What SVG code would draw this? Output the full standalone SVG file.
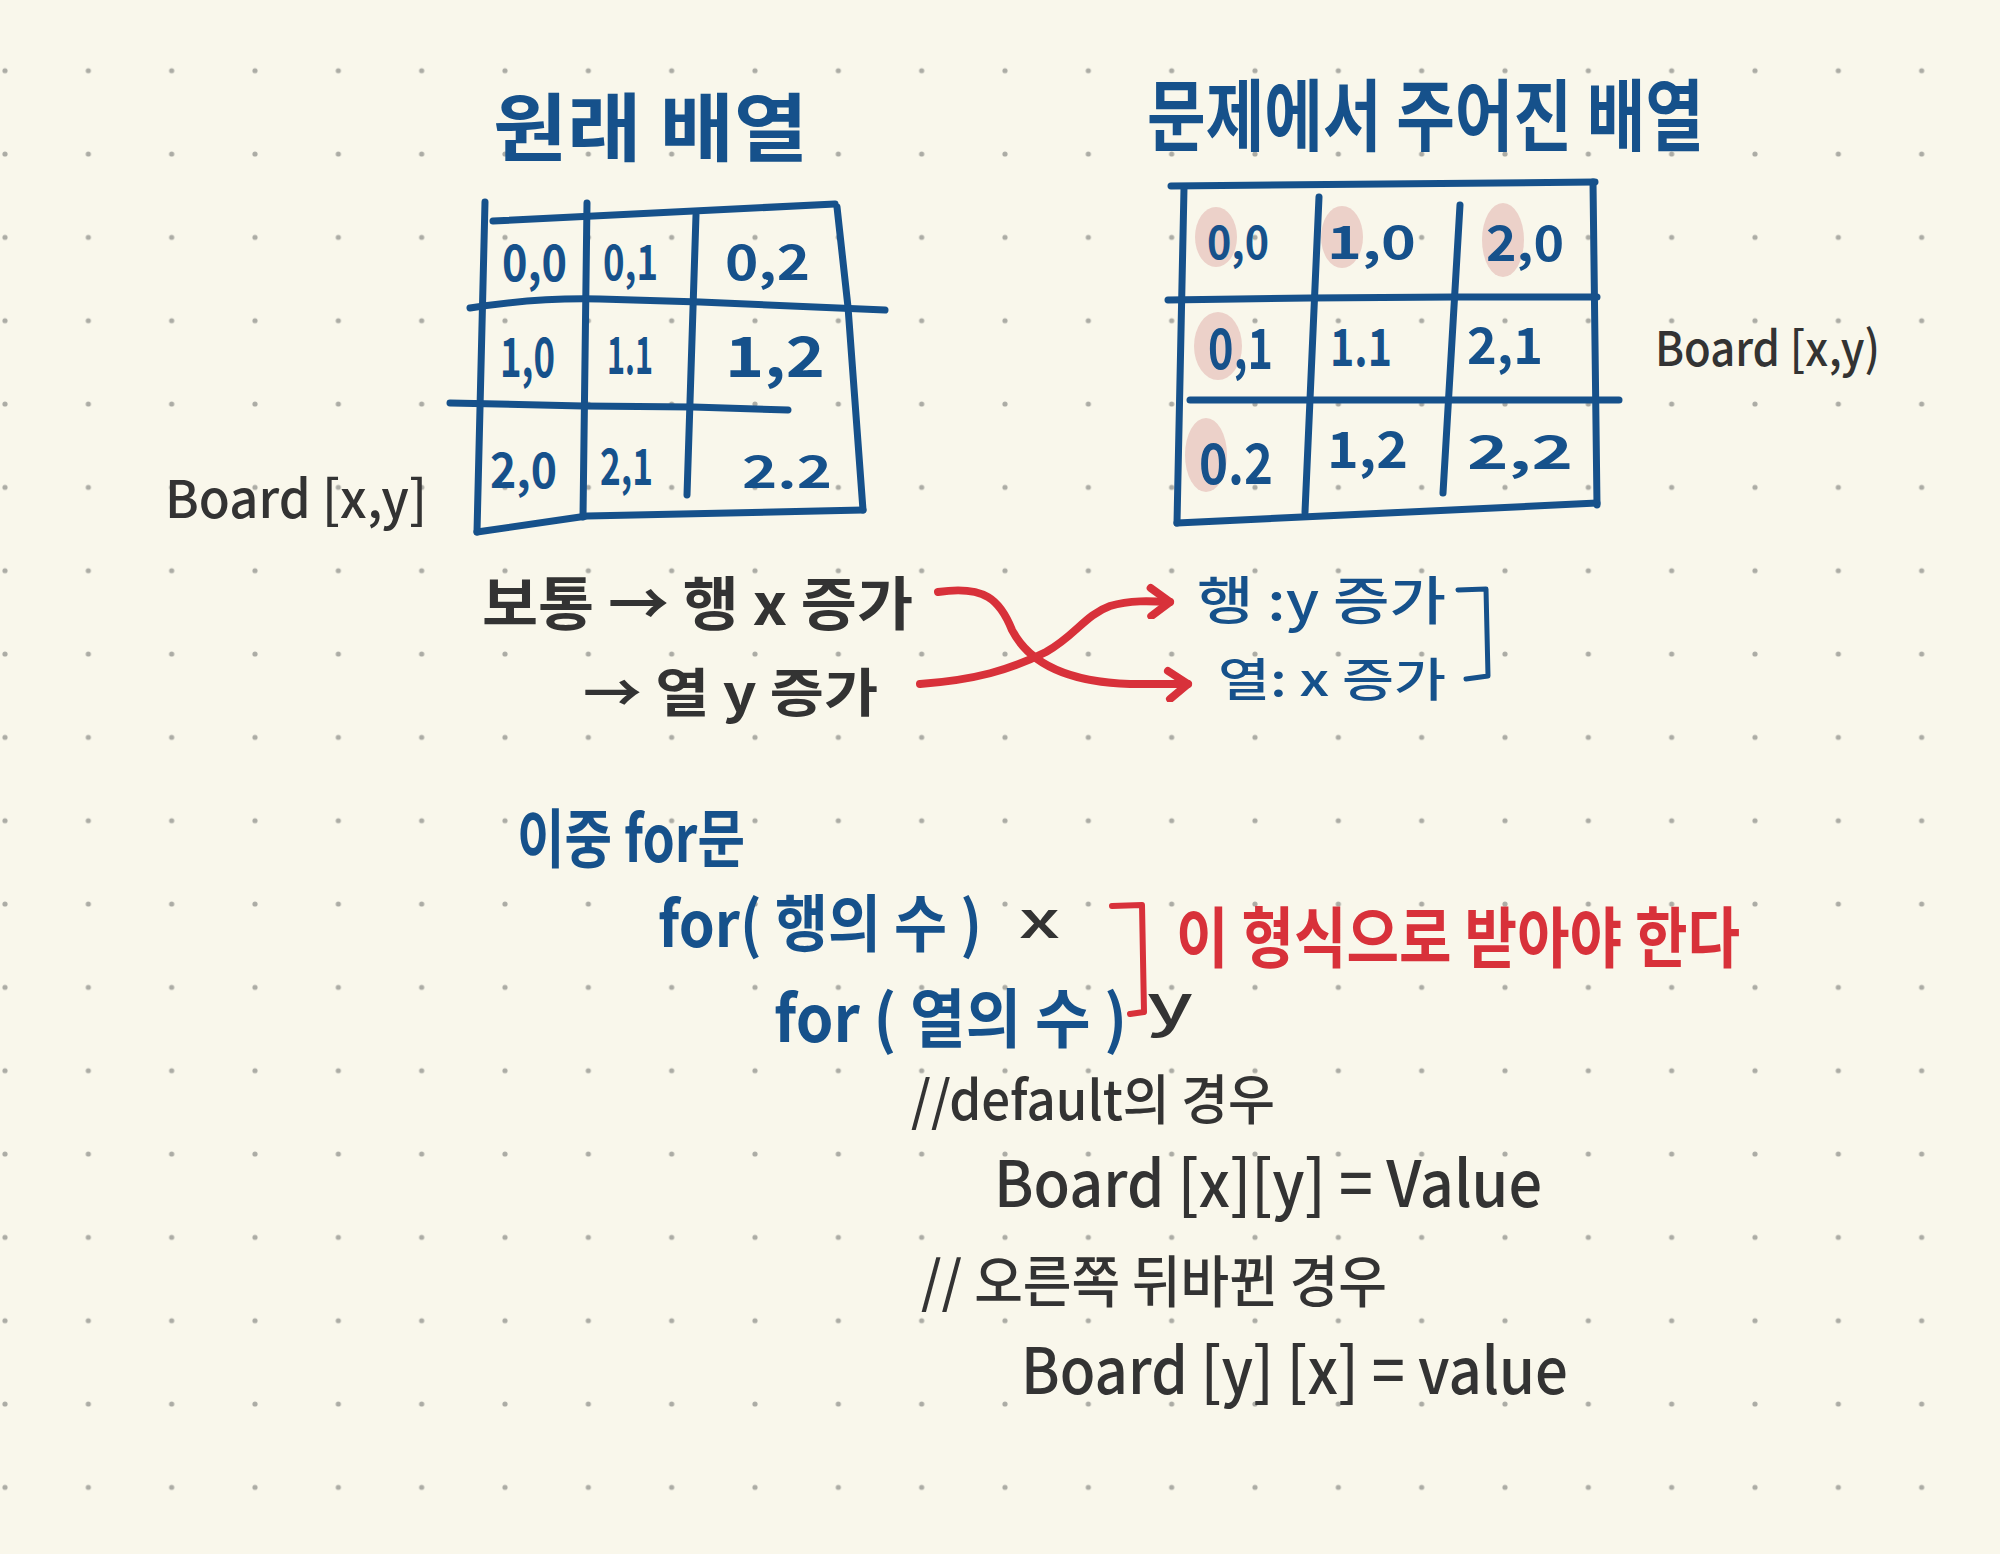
<svg xmlns="http://www.w3.org/2000/svg" width="2000" height="1554" viewBox="0 0 2000 1554">
<defs>
<pattern id="dots" patternUnits="userSpaceOnUse" x="-36.667" y="29.03" width="83.333" height="83.333">
<circle cx="41.667" cy="41.667" r="2.6" fill="#acaca5"/>
</pattern>
<marker id="chev" markerUnits="userSpaceOnUse" viewBox="-26 -18 32 36" refX="0" refY="0" markerWidth="32" markerHeight="36" orient="auto">
<path d="M-20,-13 L0,0 L-18,15" fill="none" stroke="#d8313a" stroke-width="8" stroke-linecap="round" stroke-linejoin="round"/>
</marker>
<style>
.t{font-family:"Noto Sans CJK KR","Noto Sans",sans-serif}
.blue{fill:#16518b;font-weight:700}
.bluem{fill:#16518b;font-weight:500}
.blk{fill:#333333;font-weight:700}
.blkm{fill:#333333;font-weight:500}
.red{fill:#d8313a;font-weight:700}
.grid{fill:none;stroke:#16518b;stroke-width:7;stroke-linecap:round;stroke-linejoin:round}
.hl{fill:#ecd1c9}
.arrow{fill:none;stroke:#d8313a;stroke-width:8;stroke-linecap:round}
.brk{fill:none;stroke-linecap:round;stroke-linejoin:round}
</style>
</defs>
<rect width="2000" height="1554" fill="#f9f7eb"/>
<rect width="2000" height="1554" fill="url(#dots)"/>

<g id="title-left">
<text class="t blue" x="493" y="155" font-size="74" textLength="315" lengthAdjust="spacingAndGlyphs">원래 배열</text>
</g>
<g id="title-right">
<text class="t blue" x="1147" y="145" font-size="78" textLength="557" lengthAdjust="spacingAndGlyphs">문제에서 주어진 배열</text>
</g>

<g id="table-left">
<path class="grid" d="M493,221 L835,204"/>
<path class="grid" d="M485,202 L477,532"/>
<path class="grid" d="M837,207 L848,307 L863,510"/>
<path class="grid" d="M477,532 L587,516 L863,510"/>
<path class="grid" d="M587,203 L583,517"/>
<path class="grid" d="M696,215 L687,495"/>
<path class="grid" d="M470,308 C520,300 560,298 600,299 L700,302 L885,310"/>
<path class="grid" d="M450,403 L583,406 L693,407 L788,410"/>
<g class="t blue">
<text x="502" y="281" font-size="50" textLength="65" lengthAdjust="spacingAndGlyphs">0,0</text>
<text x="603" y="280" font-size="48" textLength="55" lengthAdjust="spacingAndGlyphs">0,1</text>
<text x="725" y="280" font-size="48" textLength="85" lengthAdjust="spacingAndGlyphs">0,2</text>
<text x="500" y="377" font-size="54" textLength="55" lengthAdjust="spacingAndGlyphs">1,0</text>
<text x="607" y="374" font-size="52" textLength="46" lengthAdjust="spacingAndGlyphs">1.1</text>
<text x="725" y="377" font-size="56" textLength="100" lengthAdjust="spacingAndGlyphs">1,2</text>
<text x="490" y="488" font-size="48" textLength="67" lengthAdjust="spacingAndGlyphs">2,0</text>
<text x="600" y="485" font-size="50" textLength="53" lengthAdjust="spacingAndGlyphs">2,1</text>
<text x="742" y="488" font-size="44" textLength="90" lengthAdjust="spacingAndGlyphs">2.2</text>
</g>
</g>

<g id="table-right">
<ellipse class="hl" cx="1216" cy="237" rx="21" ry="30"/>
<ellipse class="hl" cx="1342" cy="237" rx="21" ry="31"/>
<ellipse class="hl" cx="1503" cy="240" rx="21" ry="37"/>
<ellipse class="hl" cx="1218" cy="346" rx="24" ry="34"/>
<ellipse class="hl" cx="1206" cy="455" rx="21" ry="37"/>
<path class="grid" d="M1171,186 L1595,182"/>
<path class="grid" d="M1184,188 L1177,523"/>
<path class="grid" d="M1593,182 L1597,505"/>
<path class="grid" d="M1177,523 L1597,503"/>
<path class="grid" d="M1319,197 L1305,512"/>
<path class="grid" d="M1460,205 L1443,493"/>
<path class="grid" d="M1168,300 L1310,298 L1454,297 L1597,297"/>
<path class="grid" d="M1190,400 L1619,400"/>
<g class="t blue">
<text x="1207" y="259" font-size="46" textLength="62" lengthAdjust="spacingAndGlyphs">0,0</text>
<text x="1327" y="259" font-size="46" textLength="89" lengthAdjust="spacingAndGlyphs">1,0</text>
<text x="1486" y="261" font-size="48" textLength="78" lengthAdjust="spacingAndGlyphs">2,0</text>
<text x="1208" y="369" font-size="56" textLength="65" lengthAdjust="spacingAndGlyphs">0,1</text>
<text x="1330" y="366" font-size="52" textLength="62" lengthAdjust="spacingAndGlyphs">1.1</text>
<text x="1467" y="364" font-size="50" textLength="76" lengthAdjust="spacingAndGlyphs">2,1</text>
<text x="1199" y="484" font-size="56" textLength="74" lengthAdjust="spacingAndGlyphs">0.2</text>
<text x="1327" y="468" font-size="50" textLength="81" lengthAdjust="spacingAndGlyphs">1,2</text>
<text x="1467" y="469" font-size="46" textLength="106" lengthAdjust="spacingAndGlyphs">2,2</text>
</g>
</g>

<g id="label-left">
<text class="t blkm" x="165" y="518" font-size="52" textLength="262" lengthAdjust="spacingAndGlyphs">Board [x,y]</text>
</g>
<g id="label-right">
<text class="t blkm" x="1655" y="366" font-size="48" textLength="225" lengthAdjust="spacingAndGlyphs">Board [x,y)</text>
</g>

<g id="normal-row">
<text class="t blk" x="482" y="625" font-size="58" textLength="431" lengthAdjust="spacingAndGlyphs">보통 → 행 x 증가</text>
</g>
<g id="normal-col">
<text class="t blk" x="583" y="712" font-size="52" textLength="295" lengthAdjust="spacingAndGlyphs">→ 열 y 증가</text>
</g>
<g id="given-row">
<text class="t bluem" x="1197" y="620" font-size="52" textLength="249" lengthAdjust="spacingAndGlyphs">행 :y 증가</text>
</g>
<g id="given-col">
<text class="t bluem" x="1218" y="696" font-size="46" textLength="228" lengthAdjust="spacingAndGlyphs">열: x 증가</text>
</g>
<g id="given-bracket">
<path class="brk" stroke="#16518b" stroke-width="5" d="M1458,590 L1486,589 L1488,676 L1466,679"/>
</g>

<g id="connectors">
<path class="arrow" marker-end="url(#chev)" d="M938,592 C985,585 1000,600 1012,630 C1030,665 1070,682 1130,684 L1188,684"/>
<path class="arrow" marker-end="url(#chev)" d="M920,684 C975,680 1010,670 1046,652 C1075,636 1085,615 1110,606 C1130,600 1150,601 1170,602"/>
</g>

<g id="double-for">
<text class="t blue" x="517" y="862" font-size="64" textLength="228" lengthAdjust="spacingAndGlyphs">이중 for문</text>
</g>
<g id="for-row">
<text class="t blue" x="658" y="947" font-size="62" textLength="324" lengthAdjust="spacingAndGlyphs">for( 행의 수 )</text>
<text class="t blkm" x="1019" y="938" font-size="50" textLength="41" lengthAdjust="spacingAndGlyphs">x</text>
</g>
<g id="for-col">
<text class="t blue" x="774" y="1042" font-size="64" textLength="353" lengthAdjust="spacingAndGlyphs">for ( 열의 수 )</text>
<text class="t blkm" x="1147" y="1025" font-size="56" textLength="46" lengthAdjust="spacingAndGlyphs">y</text>
</g>
<g id="form-note">
<path class="brk" stroke="#d8313a" stroke-width="6" d="M1112,906 L1142,905 L1144,1012 L1130,1014"/>
<text class="t red" x="1176" y="962" font-size="66" textLength="564" lengthAdjust="spacingAndGlyphs">이 형식으로 받아야 한다</text>
</g>

<g id="code-default">
<text class="t blkm" x="911" y="1120" font-size="54" textLength="364" lengthAdjust="spacingAndGlyphs">//default의 경우</text>
<text class="t blkm" x="994" y="1207" font-size="64" textLength="548" lengthAdjust="spacingAndGlyphs">Board [x][y] = Value</text>
</g>
<g id="code-flipped">
<text class="t blkm" x="921" y="1302" font-size="56" textLength="466" lengthAdjust="spacingAndGlyphs">// 오른쪽 뒤바뀐 경우</text>
<text class="t blkm" x="1021" y="1394" font-size="64" textLength="547" lengthAdjust="spacingAndGlyphs">Board [y] [x] = value</text>
</g>
</svg>
